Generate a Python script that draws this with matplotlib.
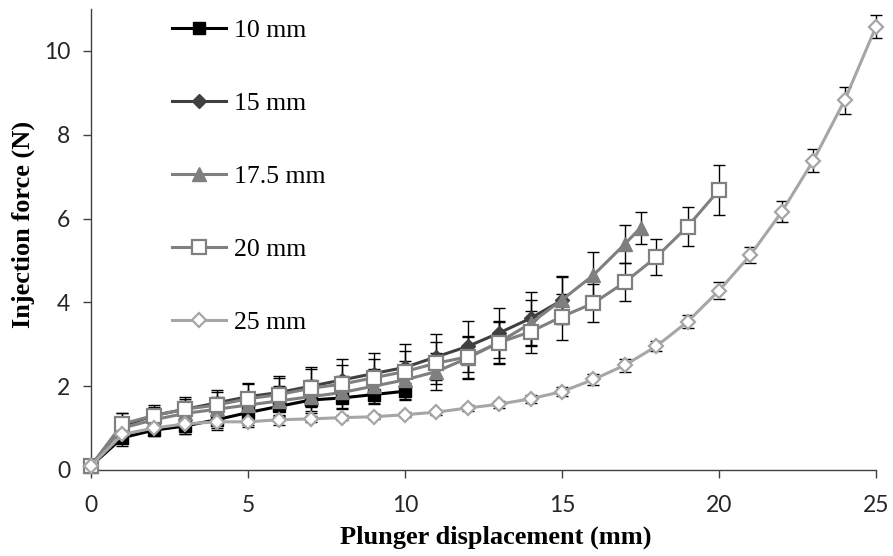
import numpy as np
import matplotlib
matplotlib.use('Agg')
import matplotlib.pyplot as plt

# injection force (N) vs plunger displacement (mm), one series per needle length
x10 = [0, 1, 2, 3, 4, 5, 6, 7, 8, 9, 10]
f10 = [0.1, 0.77, 0.95, 1.05, 1.2, 1.37, 1.52, 1.67, 1.72, 1.8, 1.88]
e10 = [0.02, 0.2, 0.15, 0.2, 0.2, 0.3, 0.25, 0.26, 0.25, 0.22, 0.2]

x15 = [0, 1, 2, 3, 4, 5, 6, 7, 8, 9, 10, 11, 12, 13, 14, 15]
f15 = [0.1, 1.05, 1.3, 1.45, 1.6, 1.75, 1.85, 2.0, 2.15, 2.3, 2.45, 2.7, 2.95, 3.27, 3.62, 4.05]
e15 = [0.02, 0.3, 0.25, 0.3, 0.3, 0.33, 0.4, 0.45, 0.5, 0.5, 0.55, 0.55, 0.6, 0.6, 0.63, 0.57]

x175 = [0, 1, 2, 3, 4, 5, 6, 7, 8, 9, 10, 11, 12, 13, 14, 15, 16, 17, 17.5]
f175 = [0.1, 1.0, 1.2, 1.35, 1.45, 1.55, 1.65, 1.75, 1.85, 2.0, 2.15, 2.35, 2.67, 3.05, 3.5, 4.06, 4.65, 5.39, 5.78]
e175 = [0.02, 0.25, 0.25, 0.3, 0.3, 0.3, 0.35, 0.4, 0.4, 0.4, 0.45, 0.45, 0.5, 0.5, 0.55, 0.55, 0.55, 0.45, 0.38]

x20 = list(range(21))
f20 = [0.1, 1.1, 1.3, 1.45, 1.55, 1.7, 1.8, 1.95, 2.05, 2.2, 2.35, 2.55, 2.7, 3.04, 3.3, 3.66, 3.98, 4.48, 5.08, 5.81, 6.68]
e20 = [0.02, 0.25, 0.2, 0.25, 0.3, 0.35, 0.4, 0.45, 0.45, 0.45, 0.5, 0.5, 0.5, 0.5, 0.5, 0.55, 0.45, 0.45, 0.43, 0.47, 0.6]

x25 = list(range(26))
f25 = [0.1, 0.85, 1.0, 1.1, 1.15, 1.15, 1.2, 1.22, 1.25, 1.27, 1.32, 1.38, 1.48, 1.57, 1.7, 1.87,
       2.16, 2.5, 2.95, 3.54, 4.28, 5.13, 6.16, 7.38, 8.82, 10.58]
e25 = [0.02, 0.1, 0.1, 0.25, 0.2, 0.13, 0.12, 0.08, 0.06, 0.06, 0.06, 0.06, 0.07, 0.08, 0.1, 0.1,
       0.13, 0.15, 0.12, 0.15, 0.2, 0.2, 0.25, 0.28, 0.32, 0.27]

labels = ['10 mm', '15 mm', '17.5 mm', '20 mm', '25 mm']

series = [
    (x10, f10, e10, dict(color='#000000', marker='s', ms=8.5, mfc='#000000', mec='#000000')),
    (x15, f15, e15, dict(color='#404040', marker='D', ms=7, mfc='#404040', mec='#404040')),
    (x175, f175, e175, dict(color='#7f7f7f', marker='^', ms=9.5, mfc='#7f7f7f', mec='#7f7f7f')),
    (x20, f20, e20, dict(color='#808080', marker='s', ms=9.5, mfc='white', mec='#808080', mew=1.6)),
    (x25, f25, e25, dict(color='#a6a6a6', marker='D', ms=7.5, mfc='white', mec='#a6a6a6', mew=1.6)),
]

fig = plt.figure(figsize=(8.93, 5.56), dpi=100)
ax = fig.add_axes([91/893, 1 - 470/556, (876 - 91)/893, (470 - 9)/556])

handles = []
for (x, y, e, st), lab in zip(series, labels):
    h, = ax.plot(x, y, lw=2.2, label=lab, zorder=3, clip_on=False, **st)
    eb = ax.errorbar(x, y, yerr=e, fmt='none', ecolor='black', elinewidth=1.0,
                     capsize=4.5, capthick=1.0, zorder=2)
    for art in eb.lines[1] + eb.lines[2]:
        art.set_clip_on(False)
    handles.append(h)

ax.set_xlim(0, 25)
ax.set_ylim(0, 11)
ax.set_xticks([0, 5, 10, 15, 20, 25])
ax.set_yticks([0, 2, 4, 6, 8, 10])

for s in ['top', 'right']:
    ax.spines[s].set_visible(False)
for s in ['left', 'bottom']:
    ax.spines[s].set_color('#404040')
    ax.spines[s].set_linewidth(1.0)
ax.tick_params(direction='out', length=6, width=1.0, color='#404040',
               labelcolor='#262626', labelsize=16.5)
ax.tick_params(axis='x', pad=12)
ax.tick_params(axis='y', pad=9)
for t in ax.get_xticklabels() + ax.get_yticklabels():
    t.set_family('Lato')

ax.set_xlabel('Plunger displacement (mm)', family='Liberation Serif', fontweight='bold', fontsize=19)
ax.set_ylabel('Injection force (N)', family='Liberation Serif', fontweight='bold', fontsize=19)
ax.xaxis.set_label_coords((496 - 91)/785, -(526 - 470)/461)
ax.yaxis.set_label_coords(-(91 - 35)/785, (470 - 224)/461)

leg = fig.legend(handles=handles, labels=labels, loc='upper left',
                 bbox_to_anchor=(172/893, 1 - 19/556), frameon=False,
                 borderpad=0, borderaxespad=0, handlelength=2.1, handletextpad=0.3,
                 labelspacing=1.95, prop={'family': 'Liberation Serif', 'size': 18.5})

fig.savefig('out.png', dpi=100)
plt.close()
